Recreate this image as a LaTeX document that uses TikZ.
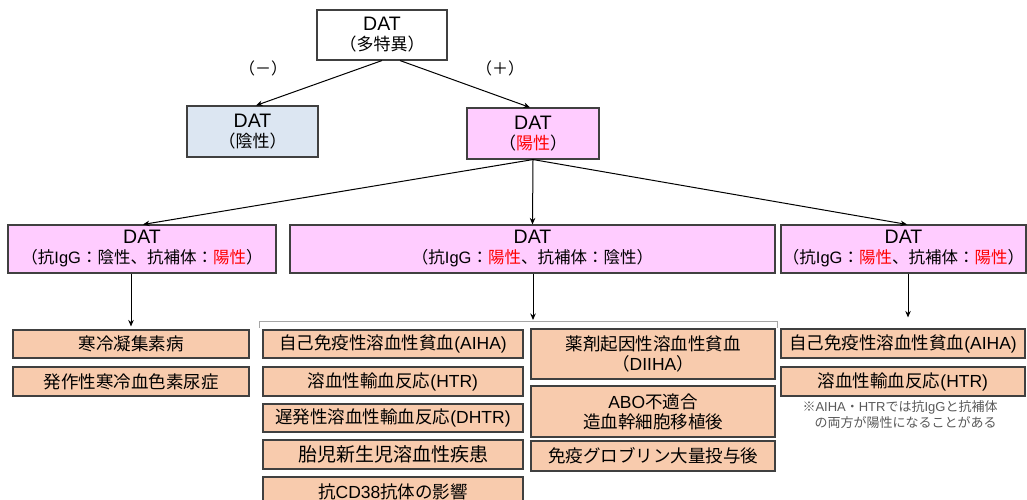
\documentclass[tikz,border=0pt]{standalone}
\usepackage{fontspec}
\setmainfont{Noto Sans CJK JP}
\newfontfamily\latinfont{Liberation Sans}
\newcommand\LatinRun[1]{{\latinfont #1}}
\usetikzlibrary{arrows.meta}
\definecolor{pinkfill}{HTML}{FFCCFF}
\definecolor{bluefill}{HTML}{DCE6F2}
\definecolor{peachfill}{HTML}{F8CBAD}
\definecolor{edge}{HTML}{404040}
\definecolor{notegray}{HTML}{595959}
\definecolor{bracketgray}{HTML}{A6A6A6}
\newcommand\hotred[1]{\textcolor{red}{#1}}
\newcommand\datline{{\latinfont\fontsize{19.5}{20}\selectfont DAT}}

\begin{document}
\begin{tikzpicture}[x=1pt,y=-1pt,
  box/.style={draw=edge, line width=1.1pt, inner sep=0pt, align=center, text=black},
  hdr/.style={box, font=\fontsize{16.5}{20}\selectfont},
  tophdr/.style={box, font=\fontsize{17}{20}\selectfont},
  item/.style={box, fill=peachfill, font=\fontsize{17.5}{20}\selectfont},
  sign/.style={font=\fontsize{16}{18}\selectfont, inner sep=0pt},
  arr/.style={-{Stealth[length=6.5pt,width=5.5pt]}, line width=1pt, black},
  bracketline/.style={draw=bracketgray, line width=0.8pt}]
\useasboundingbox (0,0) rectangle (1027,500);
\clip (0,0) rectangle (1027,500);

% top level
\node[tophdr, fill=white, minimum width=130pt, minimum height=50pt] (top) at (382,35)
  {\datline\\（多特異）};
\node[sign] (minus) at (263,68) {（－）};
\node[sign] (plus) at (500,68) {（＋）};

\node[tophdr, fill=bluefill, minimum width=131pt, minimum height=51pt] (neg) at (252.5,131.5)
  {\datline\\（陰性）};
\node[tophdr, fill=pinkfill, minimum width=132pt, minimum height=51pt] (pos) at (533,133.5)
  {\datline\\（\hotred{陽性}）};

\draw[arr] (top.south) -- ([xshift=3.5pt]neg.north);
\draw[arr] ([xshift=18pt]top.south) -- ([xshift=-3pt]pos.north);

% second level
\node[hdr, fill=pinkfill, minimum width=268pt, minimum height=48pt] (rowA) at (142,249)
  {\datline\\（抗\LatinRun{IgG}：陰性、抗補体：\hotred{陽性}）};
\node[hdr, fill=pinkfill, minimum width=485pt, minimum height=48pt] (rowB) at (532.5,249)
  {\datline\\（抗\LatinRun{IgG}：\hotred{陽性}、抗補体：陰性）};
\node[hdr, fill=pinkfill, minimum width=245pt, minimum height=48pt] (rowC) at (903.5,249)
  {\datline\\（抗\LatinRun{IgG}：\hotred{陽性}、抗補体：\hotred{陽性}）};

\draw[arr] (pos.south) -- ([xshift=1pt]rowA.north);
\draw[arr] (pos.south) -- (rowB.north);
\draw[arr] (pos.south) -- ([xshift=3.5pt]rowC.north);

% left column
\node[item, minimum width=236pt, minimum height=28pt] (cold) at (131,344) {寒冷凝集素病};
\node[item, minimum width=236pt, minimum height=29pt] (pch) at (131,381.5) {発作性寒冷血色素尿症};

% middle columns
\node[item, minimum width=260pt, minimum height=28pt] (m1) at (393,344) {自己免疫性溶血性貧血\LatinRun{(AIHA)}};
\node[item, minimum width=260pt, minimum height=29pt] (m2) at (393,381.5) {溶血性輸血反応\LatinRun{(HTR)}};
\node[item, minimum width=260pt, minimum height=28pt] (m3) at (393,418) {遅発性溶血性輸血反応\LatinRun{(DHTR)}};
\node[item, minimum width=260pt, minimum height=29pt, font=\fontsize{19}{20}\selectfont] (m4) at (393,454.5) {胎児新生児溶血性疾患};
\node[item, minimum width=260pt, minimum height=29pt] (m5) at (393,491.5) {抗\LatinRun{CD38}抗体の影響};

\node[item, minimum width=244pt, minimum height=50pt] (d1) at (653,354) {薬剤起因性溶血性貧血\\（\LatinRun{DIIHA}）};
\node[item, minimum width=244pt, minimum height=51pt] (d2) at (653,411.5) {\LatinRun{ABO}不適合\\造血幹細胞移植後};
\node[item, minimum width=244pt, minimum height=30pt] (d3) at (653,456) {免疫グロブリン大量投与後};

% right column
\node[item, minimum width=244pt, minimum height=29pt] (r1) at (903,343.5) {自己免疫性溶血性貧血\LatinRun{(AIHA)}};
\node[item, minimum width=244pt, minimum height=29pt] (r2) at (903,381.5) {溶血性輸血反応\LatinRun{(HTR)}};
\node[font=\fontsize{13}{16}\selectfont, text=notegray, align=left, inner sep=0pt] (note) at (900,415)
  {※\LatinRun{AIHA}・\LatinRun{HTR}では抗\LatinRun{IgG}と抗補体\\\hspace*{12pt}の両方が陽性になることがある};

% bracket over the middle group
\draw[bracketline] (259,328) -- (259,321) -- (777,321) -- (777,328);
\coordinate (brk) at (533,321);

\draw[arr] (rowA.south -| cold.north) -- ([yshift=3pt]cold.north);
\draw[arr] ([xshift=0.5pt]rowB.south) -- ([yshift=1pt]brk);
\draw[arr] ([xshift=4.5pt]rowC.south) -- ([xshift=5pt,yshift=11pt]r1.north);
\end{tikzpicture}
\end{document}
